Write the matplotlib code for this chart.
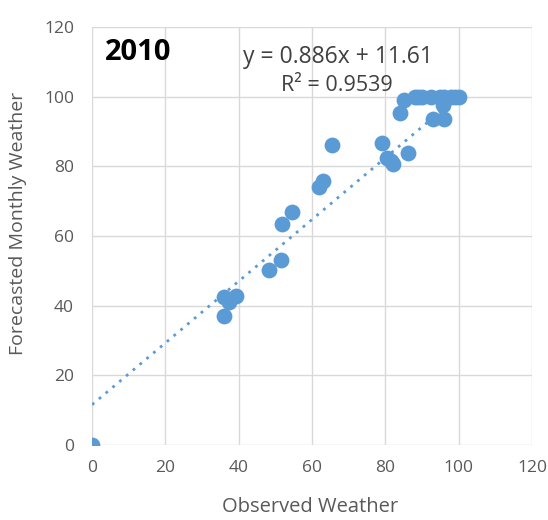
import numpy as np
import matplotlib
matplotlib.use("Agg")
import matplotlib.pyplot as plt

# observed vs forecasted
observed = [0, 36, 36, 37.4, 39.2, 48.3, 51.5, 51.8, 54.6, 62, 63, 65.4,
            79, 80.4, 81.5, 82.2, 86.2, 84, 85, 88, 89, 90, 92.5, 95,
            96, 98, 99, 100, 93, 96, 95.7]
forecast = [0, 42.6, 37, 41, 42.8, 50.3, 53, 63.5, 66.8, 74.2, 75.8, 86.2,
            86.7, 82.5, 81.6, 80.6, 83.9, 95.3, 99.2, 100, 100, 100, 100, 100,
            100, 100, 100, 100, 93.6, 93.6, 97.5]

slope, intercept = 0.886, 11.61
eq_text = "y = 0.886x + 11.61"
r2_text = "R² = 0.9539"
year = "2010"

ticks = [0, 20, 40, 60, 80, 100, 120]
blue = "#5B9BD5"
grey = "#595959"

plt.rcParams['font.family'] = ['Open Sans', 'DejaVu Sans']

fig = plt.figure(figsize=(5.48, 5.2), dpi=100)
ax = fig.add_axes([0.168, 0.144, 0.803, 0.804])

ax.scatter(observed, forecast, s=130, color=blue, zorder=3, linewidths=0)

# linear trendline (dotted)
xs = np.array([0, 100])
ax.plot(xs, slope * xs + intercept, color=blue, linestyle=(0, (1, 2.2)),
        linewidth=2, zorder=2)

ax.set_xlim(0, 120)
ax.set_ylim(0, 120)
ax.set_xticks(ticks)
ax.set_yticks(ticks)
ax.grid(color="#D9D9D9", linewidth=1)
ax.set_axisbelow(True)
for s in ax.spines.values():
    s.set_visible(False)
ax.tick_params(length=0, labelsize=12.5, labelcolor=grey)
ax.tick_params(axis="y", pad=13)
ax.tick_params(axis="x", pad=11)

ax.set_xlabel("Observed Weather", fontsize=14.5, color=grey, va="center")
ax.set_ylabel("Forecasted Monthly Weather", fontsize=14, color=grey, va="center")
ax.xaxis.set_label_coords(0.495, -0.147)
ax.yaxis.set_label_coords(-0.168, 0.531)

ax.text(0.03, 0.94, year, transform=ax.transAxes, fontsize=21,
        fontweight="bold", color="black", va="center", ha="left")
ax.text(0.559, 0.928, eq_text, transform=ax.transAxes, fontsize=16.5,
        color="#404040", va="center", ha="center")
ax.text(0.557, 0.859, r2_text, transform=ax.transAxes, fontsize=15.5,
        color="#404040", va="center", ha="center")

fig.savefig("out.png", dpi=100)
